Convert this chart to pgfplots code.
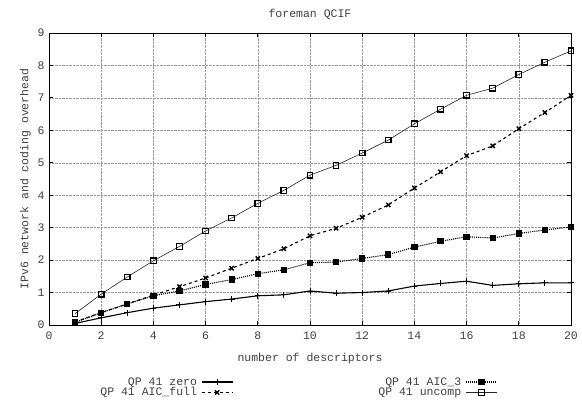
\documentclass[border=0pt]{standalone}
\usepackage{pgfplots}
\pgfplotsset{compat=1.18}
\usepackage{fontspec}
\setmainfont{Liberation Mono}

\begin{document}
\begin{tikzpicture}
\path[use as bounding box] (-49pt,-81pt) rectangle (533pt,325pt);
\begin{axis}[
    scale only axis,
    width=522pt, height=292pt,
    at={(0,0)}, anchor=south west,
    xmin=0, xmax=20, ymin=0, ymax=9,
    xtick={0,2,...,20}, ytick={0,1,...,9},
    tick align=inside,
    major tick length=4pt,
    tick style={black, thick},
    axis line style={black, thick},
    grid=major,
    grid style={gray!80, densely dotted, line width=0.5pt},
    font=\fontsize{11.5}{13}\selectfont,
    tick label style={black!75},
    xticklabel style={yshift=-3pt},
    yticklabel style={xshift=-1pt},
    /pgf/number format/assume math mode=true,
    title={foreman QCIF},
    title style={black!75, yshift=4pt},
    xlabel={number of descriptors},
    ylabel={IPv6 network and coding overhead},
    label style={black!75},
    xlabel style={yshift=-7pt},
    legend columns=2,
    legend plot pos=right,
    legend cell align=right,
    legend style={draw=none, fill=none, at={(0.5,-0.165)}, anchor=north,
        xshift=-12pt,
        font=\fontsize{11.5}{12}\selectfont, text=black!75,
        row sep=-3pt,
        /tikz/every odd column/.append style={column sep=2pt},
        /tikz/every even column/.append style={column sep=143pt}},
    legend image code/.code={
        \draw[mark repeat=2,mark phase=2,#1] plot coordinates {(0cm,0cm) (0.55cm,0cm) (1.1cm,0cm)};},
]
% QP 41 zero
\addplot[black, line width=1.1pt, mark=+, mark size=3pt, mark options={solid, line width=0.8pt}]
coordinates {
(1,0.05) (2,0.22) (3,0.38) (4,0.52) (5,0.62) (6,0.72) (7,0.80) (8,0.90) (9,0.93) (10,1.05)
(11,0.98) (12,1.00) (13,1.05) (14,1.20) (15,1.28) (16,1.35) (17,1.22) (18,1.27) (19,1.30) (20,1.30)
};
\addlegendentry{QP 41 zero}
% QP 41 AIC_3
\addplot[black, line width=1.1pt, densely dotted, mark=square*, mark size=2.6pt, mark options={solid}]
coordinates {
(1,0.08) (2,0.38) (3,0.65) (4,0.90) (5,1.05) (6,1.25) (7,1.40) (8,1.58) (9,1.70) (10,1.92)
(11,1.94) (12,2.05) (13,2.17) (14,2.40) (15,2.58) (16,2.72) (17,2.68) (18,2.82) (19,2.93) (20,3.02)
};
\addlegendentry{QP 41 AIC\_3}
% QP 41 AIC_full
\addplot[black, line width=1.1pt, dashed, mark=x, mark size=3pt, mark options={solid, line width=1.4pt}]
coordinates {
(1,0.10) (2,0.38) (3,0.65) (4,0.92) (5,1.18) (6,1.45) (7,1.75) (8,2.05) (9,2.35) (10,2.75)
(11,2.98) (12,3.32) (13,3.70) (14,4.22) (15,4.72) (16,5.22) (17,5.52) (18,6.05) (19,6.55) (20,7.08)
};
\addlegendentry{QP 41 AIC\_full}
% QP 41 uncomp
\addplot[black!85, line width=0.6pt, mark=square, mark size=2.8pt, mark options={solid, black, line width=1.2pt}]
coordinates {
(1,0.35) (2,0.95) (3,1.48) (4,1.98) (5,2.42) (6,2.90) (7,3.30) (8,3.75) (9,4.15) (10,4.62)
(11,4.92) (12,5.30) (13,5.70) (14,6.20) (15,6.65) (16,7.08) (17,7.30) (18,7.72) (19,8.10) (20,8.45)
};
\addlegendentry{QP 41 uncomp}
\end{axis}
\end{tikzpicture}
\end{document}
